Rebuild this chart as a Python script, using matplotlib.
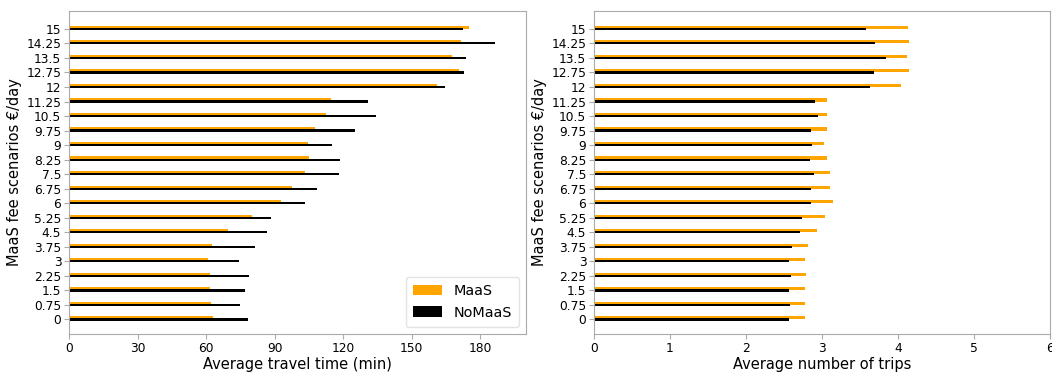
import numpy as np
import matplotlib
matplotlib.use("Agg")
import matplotlib.pyplot as plt

# MaaS fee scenarios (€/day)
fees = [0, 0.75, 1.5, 2.25, 3, 3.75, 4.5, 5.25, 6, 6.75, 7.5,
        8.25, 9, 9.75, 10.5, 11.25, 12, 12.75, 13.5, 14.25, 15]
fee_labels = ["%g" % f for f in fees]

# Average travel time (min)
time_maas = [63.2, 62.1, 61.6, 61.6, 60.7, 62.8, 69.8, 79.9, 92.7, 97.4, 103.4,
             105.1, 104.8, 107.8, 112.4, 114.6, 160.9, 170.8, 167.5, 171.6, 175.2]
time_nomaas = [78.4, 74.9, 77.0, 78.8, 74.6, 81.5, 86.6, 88.2, 103.4, 108.5, 118.3,
               118.6, 115.3, 125.3, 134.3, 130.7, 164.4, 173.0, 173.7, 186.6, 172.6]

# Average number of trips
trips_maas = [2.78, 2.78, 2.78, 2.79, 2.77, 2.81, 2.93, 3.04, 3.14, 3.11, 3.11,
              3.07, 3.02, 3.06, 3.06, 3.07, 4.04, 4.15, 4.12, 4.15, 4.13]
trips_nomaas = [2.57, 2.58, 2.57, 2.59, 2.56, 2.61, 2.71, 2.74, 2.86, 2.85, 2.90,
                2.84, 2.87, 2.86, 2.95, 2.91, 3.63, 3.69, 3.84, 3.70, 3.58]

ORANGE = "#FFA500"
SPINE = "#aaaaaa"

fig = plt.figure(figsize=(10.52, 3.72), dpi=100)
W, H = 1052.0, 372.0
ax1 = fig.add_axes([69 / W, (H - 334) / H, (526 - 69) / W, (334 - 11) / H])
ax2 = fig.add_axes([594 / W, (H - 334) / H, (1050 - 594) / W, (334 - 11) / H])

ypos = np.arange(len(fees))


def draw(ax, maas, nomaas, xlim, xticks, xlabel):
    ax.barh(ypos, maas, height=0.22, align="edge", color=ORANGE, label="MaaS")
    ax.barh(ypos, nomaas, height=0.15, align="center", color="black", label="NoMaaS")
    ax.set_yticks(ypos)
    ax.set_yticklabels(fee_labels)
    ax.set_ylim(-1.0, 21.23)
    ax.set_xlim(*xlim)
    ax.set_xticks(xticks)
    ax.set_xlabel(xlabel, fontsize=10.5, labelpad=2)
    ax.set_ylabel("MaaS fee scenarios €/day", fontsize=10.5, labelpad=3)
    ax.tick_params(labelsize=8.8, color=SPINE, length=3.5, pad=2)
    for s in ax.spines.values():
        s.set_color(SPINE)


draw(ax1, time_maas, time_nomaas, (0, 200), np.arange(0, 181, 30),
     "Average travel time (min)")
draw(ax2, trips_maas, trips_nomaas, (0, 6), np.arange(0, 7, 1),
     "Average number of trips")

ax1.legend(loc="lower right", fontsize=10.4, handlelength=2.0,
           borderpad=0.5, labelspacing=0.5, edgecolor="#dddddd")

fig.savefig("out.png", dpi=100)
